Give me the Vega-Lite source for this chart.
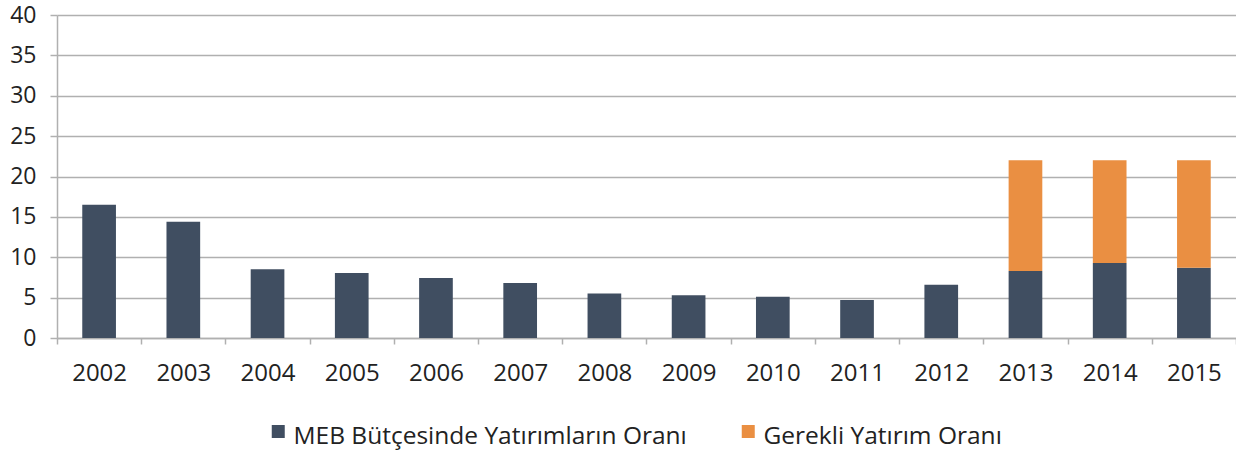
{
  "$schema": "https://vega.github.io/schema/vega-lite/v6.json",
  "width": 1179,
  "height": 323,
  "autosize": "none",
  "padding": {"left": 57, "top": 15, "right": 0, "bottom": 118},
  "background": "white",
  "config": {
    "view": {"stroke": null},
    "font": "Open Sans"
  },
  "data": {
    "values": [
      {"yil": "2002", "seri": "MEB Bütçesinde Yatırımların Oranı", "sira": 1, "deger": 16.5},
      {"yil": "2003", "seri": "MEB Bütçesinde Yatırımların Oranı", "sira": 1, "deger": 14.4},
      {"yil": "2004", "seri": "MEB Bütçesinde Yatırımların Oranı", "sira": 1, "deger": 8.5},
      {"yil": "2005", "seri": "MEB Bütçesinde Yatırımların Oranı", "sira": 1, "deger": 8.05},
      {"yil": "2006", "seri": "MEB Bütçesinde Yatırımların Oranı", "sira": 1, "deger": 7.43},
      {"yil": "2007", "seri": "MEB Bütçesinde Yatırımların Oranı", "sira": 1, "deger": 6.8},
      {"yil": "2008", "seri": "MEB Bütçesinde Yatırımların Oranı", "sira": 1, "deger": 5.5},
      {"yil": "2009", "seri": "MEB Bütçesinde Yatırımların Oranı", "sira": 1, "deger": 5.3},
      {"yil": "2010", "seri": "MEB Bütçesinde Yatırımların Oranı", "sira": 1, "deger": 5.1},
      {"yil": "2011", "seri": "MEB Bütçesinde Yatırımların Oranı", "sira": 1, "deger": 4.7},
      {"yil": "2012", "seri": "MEB Bütçesinde Yatırımların Oranı", "sira": 1, "deger": 6.6},
      {"yil": "2013", "seri": "MEB Bütçesinde Yatırımların Oranı", "sira": 1, "deger": 8.3},
      {"yil": "2014", "seri": "MEB Bütçesinde Yatırımların Oranı", "sira": 1, "deger": 9.3},
      {"yil": "2015", "seri": "MEB Bütçesinde Yatırımların Oranı", "sira": 1, "deger": 8.7},
      {"yil": "2013", "seri": "Gerekli Yatırım Oranı", "sira": 2, "deger": 13.7},
      {"yil": "2014", "seri": "Gerekli Yatırım Oranı", "sira": 2, "deger": 12.7},
      {"yil": "2015", "seri": "Gerekli Yatırım Oranı", "sira": 2, "deger": 13.3}
    ]
  },
  "mark": {"type": "bar", "width": {"band": 0.4}},
  "encoding": {
    "x": {
      "field": "yil",
      "type": "ordinal",
      "scale": {"paddingInner": 0, "paddingOuter": 0},
      "axis": {
        "title": null,
        "labelAngle": 0,
        "labelFontSize": 24,
        "labelColor": "#222222",
        "labelPadding": 17,
        "tickBand": "extent",
        "tickSize": 6,
        "tickColor": "#b0b0b0",
        "tickWidth": 1.5,
        "domainColor": "#b0b0b0",
        "domainWidth": 1.5,
        "grid": false
      }
    },
    "y": {
      "field": "deger",
      "type": "quantitative",
      "stack": "zero",
      "scale": {"domain": [0, 40], "nice": false},
      "axis": {
        "title": null,
        "values": [0, 5, 10, 15, 20, 25, 30, 35, 40],
        "labelFontSize": 23,
        "labelColor": "#222222",
        "labelPadding": 14,
        "tickSize": 7,
        "tickColor": "#b0b0b0",
        "tickWidth": 1.5,
        "domainColor": "#b0b0b0",
        "domainWidth": 1.5,
        "grid": true,
        "gridColor": "#b0b0b0",
        "gridWidth": 1.5
      }
    },
    "color": {
      "field": "seri",
      "type": "nominal",
      "scale": {
        "domain": ["MEB Bütçesinde Yatırımların Oranı", "Gerekli Yatırım Oranı"],
        "range": ["#404e61", "#ea8f42"]
      },
      "legend": {
        "title": null,
        "orient": "none",
        "direction": "horizontal",
        "legendX": 209,
        "legendY": 410,
        "symbolType": "M -1 -1.9 H 1 V 0.1 H -1 Z",
        "symbolSize": 169,
        "symbolStrokeWidth": 0,
        "labelFontSize": 24.5,
        "labelLimit": 0,
        "labelColor": "#222222",
        "labelOffset": 3,
        "columnPadding": 49
      }
    },
    "order": {"field": "sira", "type": "quantitative"}
  }
}
